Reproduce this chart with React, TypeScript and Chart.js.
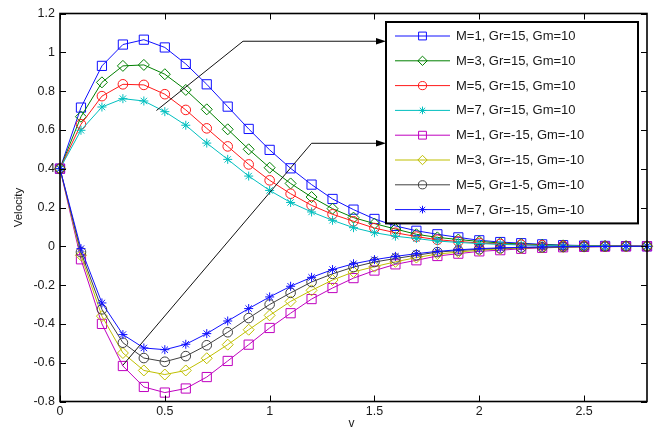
import React, { useEffect, useRef } from 'react';
import { Chart, registerables } from 'chart.js';

Chart.register(...registerables);

// ---- data ----
const vValues = [0, 0.1, 0.2, 0.3, 0.4, 0.5, 0.6, 0.7, 0.8, 0.9, 1.0, 1.1, 1.2, 1.3, 1.4, 1.5, 1.6, 1.7, 1.8, 1.9, 2.0, 2.1, 2.2, 2.3, 2.4, 2.5, 2.6, 2.7, 2.8];

const velM1Gr15 = [0.4, 0.715, 0.93, 1.04, 1.065, 1.025, 0.94, 0.835, 0.72, 0.605, 0.497, 0.402, 0.318, 0.244, 0.189, 0.141, 0.105, 0.08, 0.062, 0.046, 0.031, 0.022, 0.016, 0.01, 0.006, 0.004, 0.002, 0.001, 0];
const velM3Gr15 = [0.4, 0.668, 0.845, 0.93, 0.935, 0.887, 0.806, 0.706, 0.603, 0.5, 0.405, 0.324, 0.254, 0.194, 0.148, 0.117, 0.089, 0.062, 0.046, 0.035, 0.025, 0.017, 0.012, 0.008, 0.005, 0.003, 0.002, 0.001, 0];
const velM5Gr15 = [0.4, 0.629, 0.774, 0.835, 0.832, 0.784, 0.703, 0.608, 0.515, 0.422, 0.34, 0.271, 0.211, 0.165, 0.129, 0.094, 0.07, 0.05, 0.034, 0.025, 0.017, 0.012, 0.008, 0.005, 0.003, 0.002, 0.001, 0.001, 0];
const velM7Gr15 = [0.4, 0.598, 0.718, 0.761, 0.749, 0.694, 0.624, 0.532, 0.448, 0.362, 0.288, 0.226, 0.177, 0.134, 0.096, 0.07, 0.052, 0.04, 0.027, 0.02, 0.014, 0.01, 0.007, 0.004, 0.003, 0.002, 0.001, 0, 0];
const velM1GrNeg15 = [0.4, -0.067, -0.4, -0.617, -0.725, -0.754, -0.733, -0.674, -0.591, -0.507, -0.421, -0.345, -0.272, -0.215, -0.164, -0.125, -0.093, -0.072, -0.05, -0.038, -0.026, -0.02, -0.013, -0.008, -0.005, -0.003, -0.002, -0.001, 0];
const velM3GrNeg15 = [0.4, -0.046, -0.36, -0.55, -0.64, -0.661, -0.64, -0.577, -0.507, -0.43, -0.356, -0.284, -0.227, -0.174, -0.132, -0.105, -0.08, -0.058, -0.04, -0.03, -0.02, -0.014, -0.009, -0.006, -0.004, -0.002, -0.001, -0.001, 0];
const velM5GrNeg15 = [0.4, -0.03, -0.325, -0.497, -0.576, -0.595, -0.566, -0.51, -0.443, -0.37, -0.3, -0.24, -0.184, -0.142, -0.107, -0.081, -0.063, -0.046, -0.03, -0.022, -0.015, -0.01, -0.007, -0.005, -0.003, -0.002, -0.001, 0, 0];
const velM7GrNeg15 = [0.4, -0.012, -0.292, -0.455, -0.524, -0.533, -0.505, -0.45, -0.385, -0.321, -0.261, -0.206, -0.16, -0.12, -0.09, -0.069, -0.052, -0.038, -0.026, -0.018, -0.012, -0.008, -0.005, -0.003, -0.002, -0.001, -0.001, 0, 0];

const seriesValues = [velM1Gr15, velM3Gr15, velM5Gr15, velM7Gr15, velM1GrNeg15, velM3GrNeg15, velM5GrNeg15, velM7GrNeg15];
const seriesLabels = [
  'M=1, Gr=15, Gm=10',
  'M=3, Gr=15, Gm=10',
  'M=5, Gr=15, Gm=10',
  'M=7, Gr=15, Gm=10',
  'M=1, Gr=-15, Gm=-10',
  'M=3, Gr=-15, Gm=-10',
  'M=5, Gr=1-5, Gm=-10',
  'M=7, Gr=-15, Gm=-10',
];
const seriesColors = ['#1010ff', '#008000', '#ff1a1a', '#00bfbf', '#bf00bf', '#bfbf00', '#404040', '#1010ff'];
const seriesMarkers = ['rect', 'rectRot', 'circle', 'star', 'rect', 'rectRot', 'circle', 'star'];
const seriesRadii = [6.5, 5.5, 4.8, 4.5, 6.5, 5.5, 4.8, 4.5];

const xTicks = [0, 0.5, 1, 1.5, 2, 2.5];
const xTickLabels = ['0', '0.5', '1', '1.5', '2', '2.5'];
const yTicks = [-0.8, -0.6, -0.4, -0.2, 0, 0.2, 0.4, 0.6, 0.8, 1, 1.2];
const yTickLabels = ['-0.8', '-0.6', '-0.4', '-0.2', '0', '0.2', '0.4', '0.6', '0.8', '1', '1.2'];

const xTitle = 'v';
const yTitle = 'Velocity';

// annotation arrows (data coordinates; tip lands on legend's left edge)
const arrowUpper = [{ x: 0.46, y: 0.70 }, { x: 0.873, y: 1.057 }];
const arrowLower = [{ x: 0.30, y: -0.613 }, { x: 1.20, y: 0.531 }];

const FONT = '"Liberation Sans", Arial, Helvetica, sans-serif';

function drawMarker(ctx: CanvasRenderingContext2D, style: string, x: number, y: number, r: number, color: string) {
  ctx.save();
  ctx.strokeStyle = color;
  ctx.lineWidth = 1;
  ctx.beginPath();
  if (style === 'rect') {
    const s = Math.SQRT1_2 * r;
    ctx.rect(x - s, y - s, 2 * s, 2 * s);
  } else if (style === 'rectRot') {
    ctx.moveTo(x - r, y);
    ctx.lineTo(x, y - r);
    ctx.lineTo(x + r, y);
    ctx.lineTo(x, y + r);
    ctx.closePath();
  } else if (style === 'circle') {
    ctx.arc(x, y, r, 0, Math.PI * 2);
  } else if (style === 'star') {
    const d = Math.SQRT1_2 * r;
    ctx.moveTo(x - r, y); ctx.lineTo(x + r, y);
    ctx.moveTo(x, y - r); ctx.lineTo(x, y + r);
    ctx.moveTo(x - d, y - d); ctx.lineTo(x + d, y + d);
    ctx.moveTo(x - d, y + d); ctx.lineTo(x + d, y - d);
  }
  ctx.stroke();
  ctx.restore();
}

const decorPlugin = {
  id: 'decor',
  afterDatasetsDraw(chart: any) {
    const { ctx, chartArea: a, scales } = chart;
    const xs = scales.x;
    const ys = scales.y;
    ctx.save();

    // axes box
    ctx.strokeStyle = '#000';
    ctx.lineWidth = 1.6;
    ctx.strokeRect(a.left, a.top, a.right - a.left, a.bottom - a.top);

    // inward ticks on all sides
    ctx.lineWidth = 1;
    const tl = 6;
    ctx.beginPath();
    for (const v of xTicks) {
      const px = Math.round(xs.getPixelForValue(v)) + 0.5;
      ctx.moveTo(px, a.bottom); ctx.lineTo(px, a.bottom - tl);
      ctx.moveTo(px, a.top); ctx.lineTo(px, a.top + tl);
    }
    for (const v of yTicks) {
      const py = Math.round(ys.getPixelForValue(v)) + 0.5;
      ctx.moveTo(a.left, py); ctx.lineTo(a.left + tl, py);
      ctx.moveTo(a.right, py); ctx.lineTo(a.right - tl, py);
    }
    ctx.stroke();

    // legend geometry
    const legW = 252;
    const legRight = a.right - 9;
    const legLeft = legRight - legW;
    const legTop = a.top + 8.5;
    const rowH = 24.8;
    const legH = rowH * seriesLabels.length + 3;

    // arrows
    const drawArrow = (pts: { x: number; y: number }[]) => {
      const p = pts.map((q) => ({ x: xs.getPixelForValue(q.x), y: ys.getPixelForValue(q.y) }));
      const tip = { x: legLeft, y: p[p.length - 1].y };
      ctx.strokeStyle = '#111';
      ctx.lineWidth = 1;
      ctx.beginPath();
      ctx.moveTo(p[0].x, p[0].y);
      for (let i = 1; i < p.length; i++) ctx.lineTo(p[i].x, p[i].y);
      ctx.lineTo(tip.x - 6, tip.y);
      ctx.stroke();
      ctx.fillStyle = '#000';
      ctx.beginPath();
      ctx.moveTo(tip.x, tip.y);
      ctx.lineTo(tip.x - 10, tip.y - 3.2);
      ctx.lineTo(tip.x - 10, tip.y + 3.2);
      ctx.closePath();
      ctx.fill();
    };
    drawArrow(arrowUpper);
    drawArrow(arrowLower);

    // legend box
    ctx.fillStyle = '#fff';
    ctx.fillRect(legLeft, legTop, legW, legH);
    ctx.strokeStyle = '#000';
    ctx.lineWidth = 2;
    ctx.strokeRect(legLeft, legTop, legW, legH);

    ctx.font = `13px ${FONT}`;
    ctx.textBaseline = 'middle';
    ctx.textAlign = 'left';
    seriesLabels.forEach((label, i) => {
      const cy = legTop + 14 + i * rowH;
      const x0 = legLeft + 9;
      const x1 = legLeft + 64;
      ctx.strokeStyle = seriesColors[i];
      ctx.lineWidth = 1;
      ctx.beginPath();
      ctx.moveTo(x0, cy); ctx.lineTo(x1, cy);
      ctx.stroke();
      drawMarker(ctx, seriesMarkers[i], (x0 + x1) / 2, cy, seriesRadii[i] * 0.85, seriesColors[i]);
      ctx.fillStyle = '#1a1a1a';
      ctx.fillText(label, legLeft + 70, cy + 0.5);
    });

    // axis titles
    ctx.fillStyle = '#1a1a1a';
    ctx.font = `12px ${FONT}`;
    ctx.textAlign = 'center';
    ctx.textBaseline = 'middle';
    ctx.fillText(xTitle, (a.left + a.right) / 2 - 2, 424);
    ctx.save();
    ctx.translate(19, (a.top + a.bottom) / 2);
    ctx.rotate(-Math.PI / 2);
    ctx.font = `11.5px ${FONT}`;
    ctx.fillText(yTitle, 0, 0);
    ctx.restore();

    ctx.restore();
  },
};

export default function App() {
  const canvasRef = useRef<HTMLCanvasElement | null>(null);

  useEffect(() => {
    if (!canvasRef.current) return;
    const datasets = seriesValues.map((vals, i) => ({
      label: seriesLabels[i],
      data: vValues.map((v, k) => ({ x: v, y: vals[k] })),
      borderColor: seriesColors[i],
      backgroundColor: 'rgba(0,0,0,0)',
      pointBorderColor: seriesColors[i],
      pointBackgroundColor: 'rgba(0,0,0,0)',
      pointStyle: seriesMarkers[i],
      pointRadius: seriesRadii[i],
      pointBorderWidth: 1,
      borderWidth: 1,
      tension: 0,
      clip: false as any,
      order: seriesValues.length - i,
    }));

    const chart = new Chart(canvasRef.current, {
      type: 'line',
      data: { datasets },
      plugins: [decorPlugin],
      options: {
        animation: false,
        responsive: false,
        devicePixelRatio: 1,
        events: [],
        layout: { padding: { top: 13.5, right: 9, left: 0, bottom: 0 } },
        plugins: {
          legend: { display: false },
          title: { display: false },
          tooltip: { enabled: false },
        },
        scales: {
          x: {
            type: 'linear',
            min: 0,
            max: 2.8,
            grid: { display: false, drawTicks: false },
            border: { display: false },
            afterBuildTicks: (axis: any) => {
              axis.ticks = xTicks.map((v) => ({ value: v }));
            },
            afterFit: (axis: any) => {
              axis.height = 28.5;
            },
            ticks: {
              autoSkip: false,
              maxRotation: 0,
              padding: 3,
              color: '#1a1a1a',
              font: { family: FONT, size: 12.5 },
              callback: (_v: any, idx: number) => xTickLabels[idx],
            },
          },
          y: {
            type: 'linear',
            min: -0.8,
            max: 1.2,
            grid: { display: false, drawTicks: false },
            border: { display: false },
            afterBuildTicks: (axis: any) => {
              axis.ticks = yTicks.map((v) => ({ value: v }));
            },
            afterFit: (axis: any) => {
              axis.width = 60;
            },
            ticks: {
              autoSkip: false,
              padding: 5,
              color: '#1a1a1a',
              font: { family: FONT, size: 12.5 },
              callback: (_v: any, idx: number) => yTickLabels[idx],
            },
          },
        },
      },
    });
    return () => chart.destroy();
  }, []);

  return (
    <div style={{ position: 'absolute', left: 0, top: 0, width: 656, height: 430, background: '#fff' }}>
      <canvas ref={canvasRef} width={656} height={430} style={{ display: 'block', width: 656, height: 430 }} />
    </div>
  );
}
